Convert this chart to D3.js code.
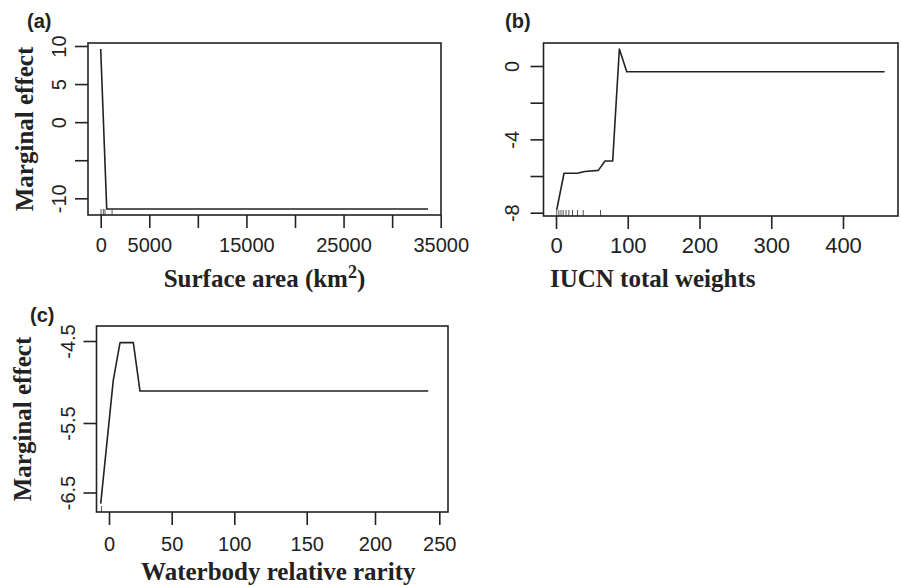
<!DOCTYPE html>
<html>
<head>
<meta charset="utf-8">
<script src="https://cdn.jsdelivr.net/npm/d3@7"></script>
<style>
  body { margin: 0; background: #fff; }
  .tick text { font-family: "Liberation Sans", Arial, sans-serif; fill: #222; }
  .ttl { font-family: "Liberation Serif", "Times New Roman", serif; font-weight: bold; fill: #222; }
  .plab { font-family: "Liberation Sans", Arial, sans-serif; font-weight: bold; fill: #222; }
</style>
</head>
<body>
<svg id="chart" width="901" height="587"></svg>
<script>
// (a) surface area
var areaX = [0, 620, 33700];
var areaY = [9.6, -11.4, -11.4];
var areaRug = [30, 270, 440, 1170];
var areaXTicks = [0, 5000, 10000, 15000, 20000, 25000, 30000, 35000];
var areaXLabels = ["0", "5000", "", "15000", "", "25000", "", "35000"];
var areaYTicks = [10, 5, 0, -5, -10];
var areaYLabels = ["10", "5", "0", "", "-10"];

// (b) IUCN total weights
var iucnX = [1, 11.2, 31, 40.4, 59, 68.3, 79, 88.3, 98.6, 458];
var iucnY = [-7.85, -5.85, -5.84, -5.75, -5.69, -5.18, -5.18, 0.93, -0.31, -0.31];
var iucnRug = [1, 4, 7, 10, 14, 18, 23, 30, 38, 62];
var iucnXTicks = [0, 100, 200, 300, 400];
var iucnXLabels = ["0", "100", "200", "300", "400"];
var iucnYTicks = [0, -2, -4, -6, -8];
var iucnYLabels = ["0", "", "-4", "", "-8"];

// (c) waterbody relative rarity
var rarX = [-6.6, 3.4, 8.8, 19.4, 24.7, 241.4];
var rarY = [-6.66, -4.98, -4.52, -4.52, -5.11, -5.11];
var rarRug = [-6];
var rarXTicks = [0, 50, 100, 150, 200, 250];
var rarXLabels = ["0", "50", "100", "150", "200", "250"];
var rarYTicks = [-4.5, -5.5, -6.5];
var rarYLabels = ["-4.5", "-5.5", "-6.5"];

var svg = d3.select("#chart");
svg.append("rect").attr("width", 901).attr("height", 587).attr("fill", "#fff");

function panel(o) {
  var g = svg.append("g");
  // the printed figure is slightly uneven, so the scales are piecewise where needed
  var x = d3.scaleLinear().domain(o.xd).range(o.xr).clamp(false);
  var y = d3.scaleLinear().domain(o.yd).range(o.yr).clamp(false);

  var line = d3.line().x(function(d) { return x(d[0]); }).y(function(d) { return y(d[1]); });
  g.append("path")
    .datum(d3.zip(o.xs, o.ys))
    .attr("d", line)
    .attr("fill", "none")
    .attr("stroke", "#222")
    .attr("stroke-width", 1.6)
    .attr("stroke-linejoin", "round");

  // rug
  g.selectAll(".rug").data(o.rug).enter().append("line")
    .attr("x1", function(d) { return x(d); }).attr("x2", function(d) { return x(d); })
    .attr("y1", o.box[3]).attr("y2", o.box[3] - 6)
    .attr("stroke", "#555").attr("stroke-width", 1);

  // box
  g.append("rect")
    .attr("x", o.box[0]).attr("y", o.box[1])
    .attr("width", o.box[2] - o.box[0]).attr("height", o.box[3] - o.box[1])
    .attr("fill", "none").attr("stroke", "#222").attr("stroke-width", 1.6);

  // x axis
  var xa = g.append("g").attr("transform", "translate(0," + o.box[3] + ")")
    .call(d3.axisBottom(x).tickValues(o.xt).tickSize(13).tickSizeOuter(0)
      .tickFormat(function(d, i) { return o.xl[i]; }));
  xa.select(".domain").remove();
  xa.selectAll(".tick line").attr("stroke", "#222").attr("stroke-width", 1.6);
  xa.selectAll(".tick text").attr("font-size", o.xfs).attr("y", o.xlab).attr("dy", 0);

  // y axis
  var ya = g.append("g").attr("transform", "translate(" + o.box[0] + ",0)")
    .call(d3.axisLeft(y).tickValues(o.yt).tickSize(13).tickSizeOuter(0)
      .tickFormat(function(d, i) { return o.yl[i]; }));
  ya.select(".domain").remove();
  ya.selectAll(".tick line").attr("stroke", "#222").attr("stroke-width", 1.6);
  ya.selectAll(".tick text").attr("font-size", o.yfs)
    .attr("transform", "rotate(-90)")
    .attr("x", 0).attr("y", -o.ylab).attr("dy", 0)
    .attr("text-anchor", "middle");

  // titles
  var xt = g.append("text").attr("class", "ttl").attr("font-size", 25)
    .attr("x", (o.box[0] + o.box[2]) / 2 + o.xtOff).attr("y", o.xtY)
    .attr("text-anchor", "middle");
  o.xtitle(xt);
  if (o.ytitle) {
    g.append("text").attr("class", "ttl").attr("font-size", 25)
      .attr("transform", "translate(" + o.ytX + "," + ((o.box[1] + o.box[3]) / 2) + ") rotate(-90)")
      .attr("text-anchor", "middle")
      .text(o.ytitle);
  }
  g.append("text").attr("class", "plab").attr("font-size", 20)
    .attr("x", o.pl[0]).attr("y", o.pl[1]).text(o.plab);
}

panel({
  box: [88, 43, 441, 215],
  xd: [0, 35000], xr: [100.7, 440.7],
  yd: [10, -10], yr: [46, 198.3],
  xs: areaX, ys: areaY, rug: areaRug,
  xt: areaXTicks, xl: areaXLabels, yt: areaYTicks, yl: areaYLabels,
  xfs: 20, yfs: 20, xlab: 37, ylab: 22,
  xtOff: 0, xtY: 287,
  xtitle: function(t) {
    t.append("tspan").text("Surface area (km");
    t.append("tspan").attr("font-size", 18).attr("dy", -9).text("2");
    t.append("tspan").attr("dy", 9).text(")");
  },
  ytitle: "Marginal effect", ytX: 33,
  pl: [27, 28], plab: "(a)"
});

panel({
  box: [543.5, 43, 898, 216],
  xd: [0, 400], xr: [556, 843],
  yd: [0, -8], yr: [66, 212.7],
  xs: iucnX, ys: iucnY, rug: iucnRug,
  xt: iucnXTicks, xl: iucnXLabels, yt: iucnYTicks, yl: iucnYLabels,
  xfs: 22, yfs: 20, xlab: 37, ylab: 25,
  xtOff: -68, xtY: 287,
  xtitle: function(t) { t.text("IUCN total weights"); },
  ytitle: null,
  pl: [505, 28], plab: "(b)"
});

panel({
  box: [96.5, 326, 448, 512],
  xd: [0, 50, 100, 150, 200, 250], xr: [109, 171.7, 234.3, 306.7, 375, 439.3],
  yd: [-4.5, -5.5, -6.5], yr: [341, 423, 492.5],
  xs: rarX, ys: rarY, rug: rarRug,
  xt: rarXTicks, xl: rarXLabels, yt: rarYTicks, yl: rarYLabels,
  xfs: 20, yfs: 20, xlab: 39, ylab: 22,
  xtOff: 6, xtY: 580,
  xtitle: function(t) { t.text("Waterbody relative rarity"); },
  ytitle: "Marginal effect", ytX: 31,
  pl: [30, 322], plab: "(c)"
});
</script>
</body>
</html>
